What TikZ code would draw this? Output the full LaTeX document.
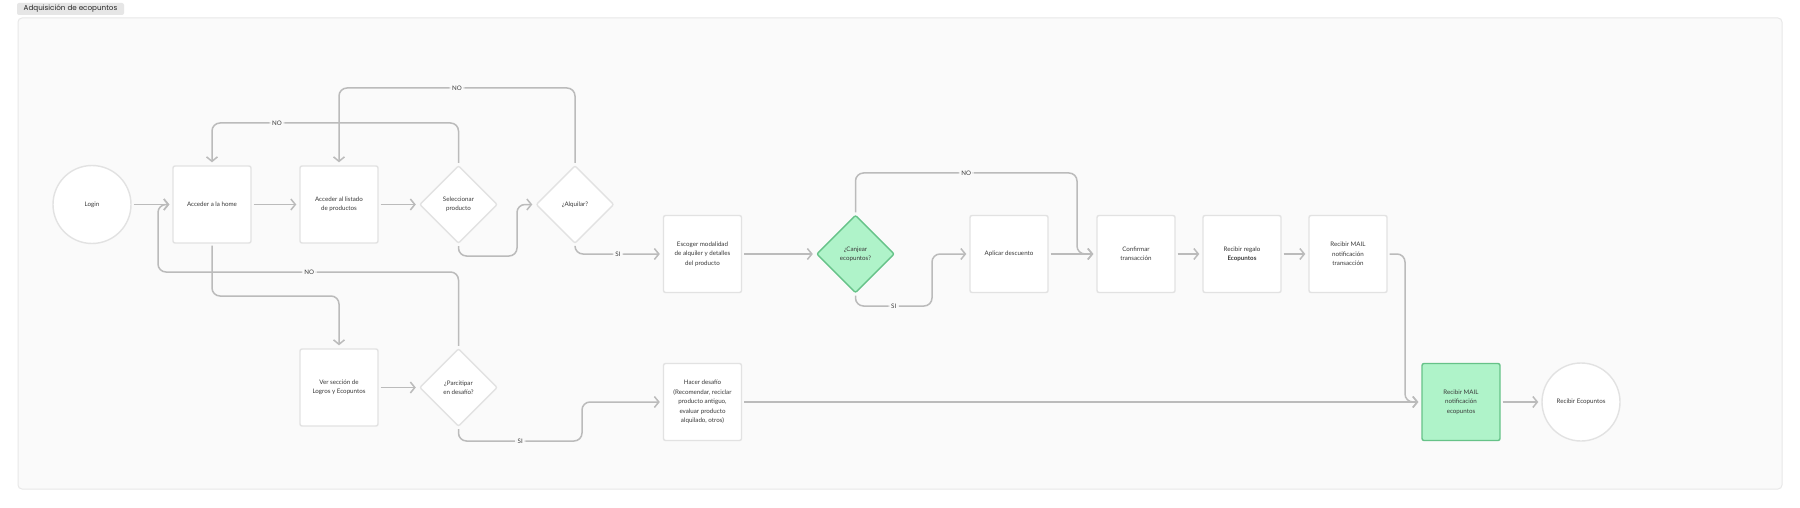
\documentclass[tikz,border=0pt]{standalone}
\usepackage{fontspec}
\setmainfont{Lato}
\newfontfamily\titlefont{Poppins}
\usetikzlibrary{arrows.meta,shapes.geometric}
\definecolor{framefill}{HTML}{FAFAFA}
\definecolor{frameline}{HTML}{E8E8E8}
\definecolor{boxline}{HTML}{E2E2E2}
\definecolor{conncol}{HTML}{BBBBBB}
\definecolor{txt}{HTML}{3A3A3A}
\definecolor{greenfill}{HTML}{AFF3C9}
\definecolor{greenline}{HTML}{66C288}
\definecolor{tabfill}{HTML}{E6E6E6}
\tikzset{
  nodefont/.style={font=\fontsize{6.2}{9.4}\selectfont, text=txt},
  box/.style={nodefont, draw=boxline, line width=1.4pt, fill=white, rounded corners=2pt,
    minimum width=78pt, minimum height=77pt, inner sep=1pt, align=center},
  greenbox/.style={box, draw=greenline, fill=greenfill},
  dia/.style={nodefont, diamond, draw=boxline, line width=1.4pt, fill=white, rounded corners=2pt,
    minimum width=78pt, minimum height=78pt, inner sep=0pt, align=center},
  greendia/.style={dia, draw=greenline, fill=greenfill},
  circ/.style={nodefont, circle, draw=boxline, line width=1.4pt, fill=white,
    minimum size=78pt, inner sep=0pt, align=center},
  conn/.style={draw=conncol, line width=1.5pt, rounded corners=8pt,
    -{Straight Barb[length=4.5pt,width=11pt]}, shorten >=3pt, shorten <=2pt},
  lbl/.style={font=\fontsize{6.2}{7}\selectfont, text=txt, fill=framefill, inner sep=2.5pt},
  tab/.style={font=\titlefont\fontsize{7.2}{9}\selectfont, text=black!85, fill=tabfill, rounded corners=2pt,
    minimum width=107pt, minimum height=12pt, inner sep=0pt}
}
\begin{document}
\begin{tikzpicture}[x=1pt,y=-1pt]
\useasboundingbox (0,0) rectangle (1800,508);
\fill[white] (0,0) rectangle (1800,508);
\draw[frameline, fill=framefill, line width=1pt, rounded corners=4pt] (18,18) rectangle (1782,489);
\node[tab] (title) at (70.5,9) {Adquisición de ecopuntos};

% nodes
\node[circ] (login) at (92,204.5) {Login};
\node[box] (home) at (212,204.5) {Acceder a la home};
\node[box] (list) at (339,204.5) {Acceder al listado\\de productos};
\node[dia] (sel) at (458.5,204.5) {Seleccionar\\producto};
\node[dia] (alq) at (575,204.5) {¿Alquilar?};
\node[box] (esc) at (702.5,254) {Escoger modalidad\\de alquiler y detalles\\del producto};
\node[greendia] (canj) at (855.5,254) {¿Canjear\\ecopuntos?};
\node[box] (apl) at (1009,254) {Aplicar descuento};
\node[box] (conf) at (1136,254) {Confirmar\\transacción};
\node[box] (reg) at (1242,254) {Recibir regalo\\\textbf{Ecopuntos}};
\node[box] (mailt) at (1348,254) {Recibir MAIL\\notificación\\transacción};
\node[greenbox] (maile) at (1461,402) {Recibir MAIL\\notificación\\ecopuntos};
\node[circ] (recib) at (1581,402) {Recibir Ecopuntos};
\node[box] (ver) at (339,387.5) {Ver sección de\\Logros y Ecopuntos};
\node[dia] (part) at (458.5,387.5) {¿Parcitipar\\en desafío?};
\node[box] (hacer) at (702.5,402) {Hacer desafío\\(Recomendar, reciclar\\producto antiguo,\\evaluar producto\\alquilado, otros)};

% connectors
\draw[conn] (login.east) -- (home.west);
\draw[conn] (home.east) -- (list.west);
\draw[conn] (list.east) -- (sel.west);
\draw[conn] (sel.south) -- (458.5,256) -- (517,256) -- (517,204.5) -- (alq.west);
\draw[conn] (sel.north) -- (458.5,123) -- node[lbl,pos=0.736]{NO} (212,123) -- (home.north);
\draw[conn] (alq.north) -- (575,88) -- node[lbl,pos=0.5]{NO} (339,88) -- (list.north);
\draw[conn] (alq.south) -- (575,254) -- node[lbl,pos=0.49]{SI} (esc.west);
\draw[conn] (esc.east) -- (canj.west);
\draw[conn] (canj.north) -- (855.5,173) -- node[lbl,pos=0.5]{NO} (1077,173) -- (1077,254) -- (conf.west);
\draw[conn] (canj.south) -- (855.5,306) -- node[lbl,pos=0.5]{SI} (932,306) -- (932,254) -- (apl.west);
\draw[conn] (apl.east) -- (conf.west);
\draw[conn] (conf.east) -- (reg.west);
\draw[conn] (reg.east) -- (mailt.west);
\draw[conn] (mailt.east) -- (1405,254) -- (1405,402) -- (maile.west);
\draw[conn] (hacer.east) -- (maile.west);
\draw[conn] (maile.east) -- (recib.west);
\draw[conn] (home.south) -- (212,296) -- (339,296) -- (ver.north);
\draw[conn] (ver.east) -- (part.west);
\draw[conn] (part.north) -- (458.5,272) -- node[lbl,pos=0.497]{NO} (158,272) -- (158,204.5) -- (home.west);
\draw[conn] (part.south) -- (458.5,441) -- node[lbl,pos=0.5]{SI} (582,441) -- (582,402) -- (hacer.west);
\end{tikzpicture}
\end{document}
